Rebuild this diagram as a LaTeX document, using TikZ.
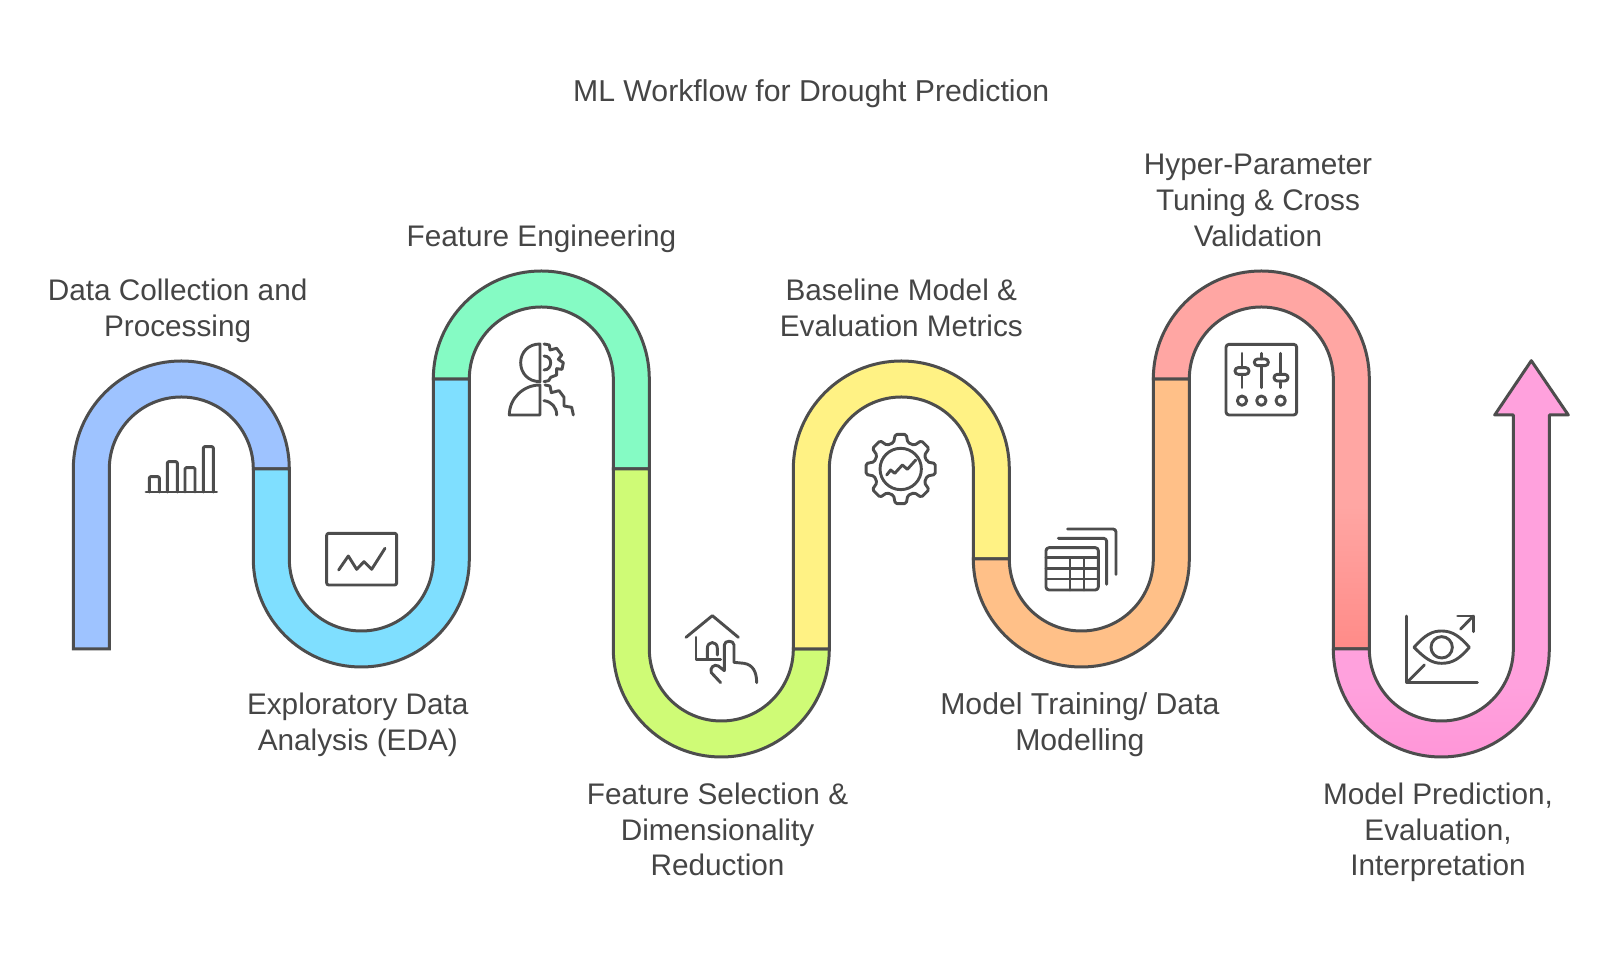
\documentclass[tikz,border=0pt]{standalone}
\usepackage{fontspec}
\setmainfont{Liberation Sans}
\definecolor{ink}{HTML}{4D4D4D}
\definecolor{txt}{HTML}{454545}
\definecolor{bandA}{HTML}{9EC3FF}
\definecolor{bandB}{HTML}{7FDFFF}
\definecolor{bandC}{HTML}{85FBC4}
\definecolor{bandD}{HTML}{CFFB76}
\definecolor{bandE}{HTML}{FFF284}
\definecolor{bandF}{HTML}{FFC088}
\definecolor{bandG}{HTML}{FFA6A3}
\definecolor{bandGd}{HTML}{FF8B88}
\definecolor{bandH}{HTML}{FFA1DD}
\definecolor{bandHd}{HTML}{FF96D8}
\pgfdeclareverticalshading{shadeG}{100bp}{color(0bp)=(bandGd); color(25bp)=(bandGd); color(44bp)=(bandG); color(100bp)=(bandG)}
\pgfdeclareverticalshading{shadeH}{100bp}{color(0bp)=(bandHd); color(25bp)=(bandHd); color(34bp)=(bandH); color(100bp)=(bandH)}
\newcommand{\lst}{\rule[-8.85pt]{0pt}{35.85pt}}
\tikzset{
  band/.style={draw=ink,line width=3pt,line join=miter},
  glyph/.style={draw=ink,line width=2.9pt,line cap=round,line join=round},
  lab/.style={text=txt,align=center,inner sep=0pt,font=\fontsize{29.75}{35.85}\selectfont},
  labwide/.style={lab,font=\fontsize{30.2}{35.85}\selectfont},
  glyphbox/.style={shift={#1},x=0.33333pt,y=-0.33333pt}
}
\begin{document}
\begin{tikzpicture}[x=1pt,y=1pt]
\useasboundingbox (0,0) rectangle (1605,957);
% bands
\path[band,fill=bandA] (73.3,308) -- (73.3,488) arc[start angle=180,end angle=0,radius=108] -- (253.3,488) arc[start angle=0,end angle=180,radius=72] -- (109.3,308) -- cycle;
\path[band,fill=bandB] (253.3,488) -- (253.3,398) arc[start angle=180,end angle=360,radius=108] -- (469.3,578) -- (433.3,578) -- (433.3,398) arc[start angle=360,end angle=180,radius=72] -- (289.3,488) -- cycle;
\path[band,fill=bandC] (433.3,578) arc[start angle=180,end angle=0,radius=108] -- (649.3,488) -- (613.3,488) -- (613.3,578) arc[start angle=0,end angle=180,radius=72] -- cycle;
\path[band,fill=bandD] (613.3,488) -- (613.3,308) arc[start angle=180,end angle=360,radius=108] -- (793.3,308) arc[start angle=360,end angle=180,radius=72] -- (649.3,488) -- cycle;
\path[band,fill=bandE] (793.3,308) -- (793.3,488) arc[start angle=180,end angle=0,radius=108] -- (1009.3,398) -- (973.3,398) -- (973.3,488) arc[start angle=0,end angle=180,radius=72] -- (829.3,308) -- cycle;
\path[band,fill=bandF] (973.3,398) arc[start angle=180,end angle=360,radius=108] -- (1189.3,578) -- (1153.3,578) -- (1153.3,398) arc[start angle=360,end angle=180,radius=72] -- cycle;
\path[band,shading=shadeG] (1153.3,578) arc[start angle=180,end angle=0,radius=108] -- (1369.3,308) -- (1333.3,308) -- (1333.3,578) arc[start angle=0,end angle=180,radius=72] -- cycle;
\path[band,line join=round,shading=shadeH] (1333.3,308) arc[start angle=180,end angle=360,radius=108] -- (1549.3,542) -- (1568.3,542) -- (1531.3,596.3) -- (1494.7,542) -- (1513.3,542) -- (1513.3,308) arc[start angle=360,end angle=180,radius=72] -- cycle;
% icon 1 bars
\begin{scope}[glyphbox={(60,617)}]
\draw[glyph] (258,456) -- (470,456);
\draw[glyph,rounded corners=1.2pt] (268,456) -- (268,410) -- (298,410) -- (298,456);
\draw[glyph,rounded corners=1.2pt] (322,456) -- (322,365) -- (352,365) -- (352,456);
\draw[glyph,rounded corners=1.2pt] (375,456) -- (375,383) -- (405,383) -- (405,456);
\draw[glyph,rounded corners=1.2pt] (430,456) -- (430,320) -- (460,320) -- (460,456);
% icon 2 chart
\draw[glyph,rounded corners=2pt] (800,580) rectangle (1010,735);
\draw[glyph] (836,690) -- (865,648) -- (890,688) -- (912,665) -- (935,688) -- (975,625);
\end{scope}
% icon 3 person and gear
\begin{scope}[glyphbox={(490,637)}]
\draw[glyph] (150,72) .. controls (115,72) and (92,97) .. (92,128) .. controls (92,160) and (115,185) .. (150,185) -- cycle;
\draw[glyph] (58,285) -- (150,285) -- (150,195) .. controls (100,195) and (58,235) .. (58,285) -- cycle;
\draw[glyph] (162,72) -- (178,75) -- (180,90) -- (200,85) -- (215,105) -- (205,118) -- (220,128) -- (216,148) -- (200,146) -- (200,165) -- (182,172) -- (176,182) -- (162,185);
\draw[glyph] (162,108) .. controls (175,108) and (182,118) .. (182,128) .. controls (182,140) and (175,150) .. (162,150);
\draw[glyph] (165,195) -- (180,198) -- (184,218) -- (207,212) -- (222,232) -- (222,258) -- (245,262) -- (250,285);
\draw[glyph] (162,242) .. controls (185,245) and (200,262) .. (200,285);
\end{scope}
% icon 4 house and hand
\begin{scope}[glyphbox={(670,357)}]
\draw[glyph] (48,112) -- (127,47) -- (205,112);
\draw[glyph] (78,112) -- (78,178) -- (152,178);
\draw[glyph] (112,178) -- (112,145) .. controls (112,122) and (142,122) .. (142,145) -- (142,165);
\draw[glyph] (152,248) -- (124,218) .. controls (118,205) and (132,190) .. (145,198) -- (163,212) -- (163,135) .. controls (163,120) and (192,120) .. (192,135) -- (192,187) -- (222,190) .. controls (248,194) and (260,215) .. (260,248);
\end{scope}
% icon 5 gear
\begin{scope}[glyphbox={(900.7,488)}]
\draw[glyph,rounded corners=1.6pt] (-15:82) \foreach \a in {0,45,...,315} { -- (\a-15:82) -- (\a-9:105) -- (\a+9:105) -- (\a+15:82) } -- cycle;
\draw[glyph] (0,0) circle[radius=62];
\draw[glyph] (-42,18) -- (-30,3) -- (-18,13) -- (5,-12) -- (20,1) -- (45,-27);
\end{scope}
% icon 6 table
\begin{scope}[glyphbox={(1030,442)}]
\draw[glyph,rounded corners=3pt] (48,98) rectangle (205,225);
\draw[glyph] (48,128) -- (205,128);
\draw[glyph] (48,160) -- (205,160);
\draw[glyph] (48,192) -- (205,192);
\draw[glyph] (120,128) -- (120,225);
\draw[glyph] (162,128) -- (162,225);
\draw[glyph,rounded corners=3pt] (85,70) -- (230,70) -- (230,208);
\draw[glyph,rounded corners=3pt] (113,42) -- (258,42) -- (258,178);
\end{scope}
% icon 7 sliders
\begin{scope}[glyphbox={(1210,622)}]
\draw[glyph,rounded corners=3pt] (48,28) rectangle (260,240);
\draw[glyph] (96,55) -- (96,98) (96,118) -- (96,158);
\draw[glyph] (154,55) -- (154,72) (154,92) -- (154,158);
\draw[glyph] (212,55) -- (212,118) (212,138) -- (212,158);
\draw[glyph,rounded corners=3.2pt] (75,98) rectangle (117,118);
\draw[glyph,rounded corners=3.2pt] (133,72) rectangle (175,92);
\draw[glyph,rounded corners=3.2pt] (192,118) rectangle (234,138);
\draw[glyph] (96,197) circle[radius=14];
\draw[glyph] (154,197) circle[radius=14];
\draw[glyph] (212,197) circle[radius=14];
\end{scope}
% icon 8 eye
\begin{scope}[glyphbox={(1390,357)}]
\draw[glyph] (50,48) -- (50,248) -- (262,248);
\draw[glyph] (50,248) -- (103,195);
\draw[glyph] (212,87) -- (250,48);
\draw[glyph] (203,48) -- (250,48) -- (250,95);
\draw[glyph] (72,142) .. controls (105,105) and (125,93) .. (155,93) .. controls (188,93) and (210,110) .. (238,142) .. controls (210,175) and (188,190) .. (155,190) .. controls (125,190) and (105,175) .. (72,142) -- cycle;
\draw[glyph] (155,142) circle[radius=32];
\end{scope}
% labels
\node[labwide] (title) at (811.2,864.5) {\lst ML Workflow for Drought Prediction};
\node[lab] (collect) at (177.6,647.4) {\lst Data Collection and\\\lst Processing};
\node[lab] (engineer) at (541.5,719.6) {\lst Feature Engineering};
\node[lab] (explore) at (357.8,233.9) {\lst Exploratory Data\\\lst Analysis (EDA)};
\node[lab] (select) at (717.5,126) {\lst Feature Selection \&\\\lst Dimensionality\\\lst Reduction};
\node[lab] (baseline) at (901.3,647.4) {\lst Baseline Model \&\\\lst Evaluation Metrics};
\node[lab] (tune) at (1258,755.4) {\lst Hyper-Parameter\\\lst Tuning \& Cross\\\lst Validation};
\node[labwide] (train) at (1079.9,233.9) {\lst Model Training/ Data\\\lst Modelling};
\node[lab] (predict) at (1438,126) {\lst Model Prediction,\\\lst Evaluation,\\\lst Interpretation};
\end{tikzpicture}
\end{document}
